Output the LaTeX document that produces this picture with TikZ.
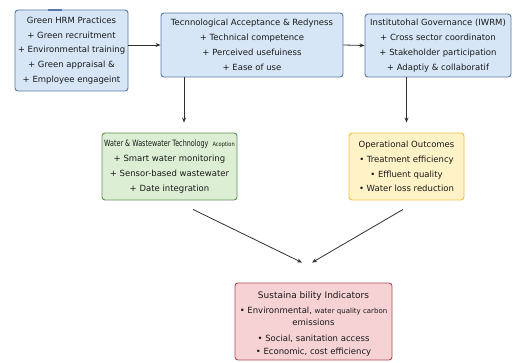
\documentclass[tikz,border=0pt]{standalone}
\usepackage{fontspec}
\usepackage{graphicx}
\setmainfont{DejaVu Sans}
\usetikzlibrary{arrows.meta,calc}
\definecolor{bfill}{HTML}{D6E6F6}
\definecolor{bdraw}{HTML}{5878A8}
\definecolor{gfill}{HTML}{DCEFD4}
\definecolor{gdraw}{HTML}{5E9254}
\definecolor{yfill}{HTML}{FFF2C6}
\definecolor{ydraw}{HTML}{EEC04A}
\definecolor{rfill}{HTML}{F6D2D5}
\definecolor{rdraw}{HTML}{B04A52}
\definecolor{arrc}{HTML}{303030}
\tikzset{
  boxbase/.style={rounded corners=3pt, line width=0.9pt, align=center, inner sep=0pt,
    font=\fontsize{8.5}{14.8}\selectfont, text=black!90},
  bluebox/.style={boxbase, draw=bdraw, fill=bfill},
  greenbox/.style={boxbase, draw=gdraw, fill=gfill},
  yellowbox/.style={boxbase, draw=ydraw, fill=yfill},
  redbox/.style={boxbase, draw=rdraw, fill=rfill},
  arr/.style={draw=arrc, line width=0.8pt, -{Stealth[length=5pt,width=4pt]}}
}
\begin{document}
\begin{tikzpicture}[x=1pt,y=-1pt]
\useasboundingbox (0,0) rectangle (513,363);
\node[bluebox, minimum width=113pt, minimum height=81pt] (b1) at (71.5,50.5)
  {Green HRM Practices\\+ Green recruitment\\+ Environmental training\\+ Green appraisal \&\\+ Employee engageint};
\draw[bdraw, line width=2pt] (b1.north west) ++(33,0) -- ++(14,0) coordinate (tab);
\node[bluebox, minimum width=182pt, minimum height=64pt] (b2) at (252,45)
  {Tecnnological Acceptance \& Redyness\\+ Technical competence\\+ Perceived usefuiness\\+ Ease of use};
\node[bluebox, minimum width=146pt, minimum height=63pt] (b3) at (438,45.5)
  {Institutohal Governance (IWRM)\\+ Cross sector coordinaton\\+ Stakeholder participation\\+ Adaptiy \& collaboratif};
\node[greenbox, minimum width=135pt, minimum height=67pt] (gr) at (169.5,166.5)
  {\scalebox{0.74}[1]{\fontsize{8.7}{14.8}\selectfont Water \& Wastewater Technology}\hspace{4pt}\scalebox{0.85}[1]{\fontsize{6}{6}\selectfont Acoption}\\+ Smart water monitoring\\+ Sensor-based wastewater\\+ Date integration};
\node[yellowbox, minimum width=115pt, minimum height=67pt] (ye) at (406.5,166.5)
  {Operational Outcomes\\• Treatment efficiency\\• Effluent quality\\• Water loss reduction};
\node[redbox, minimum width=157pt, minimum height=77pt] (rd) at (313.5,321.5)
  {\rule{0pt}{12pt}{\fontsize{9}{14.8}\selectfont Sustaina bility Indicators}\\[0pt]
   • Environmental, {\fontsize{7}{7}\selectfont water quality carbon}\\[-2.5pt]
   emissions\\[1pt]• Social, sanitation access\\[-2pt]• Economic, cost efficiency};
\draw[arr] (b1.east |- b2.west) -- (b2.west);
\draw[arr] (b2.east) -- (b3.west);
\draw[arr, shorten >=10pt] ([xshift=-68pt]b2.south) -- ([xshift=14.5pt]gr.north);
\draw[arr, shorten >=10pt] (b3.south -| ye.north) -- (ye.north);
\draw[arr] ([xshift=23.5pt,yshift=-9pt]gr.south) -- ([xshift=-11.5pt,yshift=20pt]rd.north);
\draw[arr] ([xshift=-3.5pt,yshift=-9pt]ye.south) -- ([xshift=-1.5pt,yshift=20pt]rd.north);
\end{tikzpicture}
\end{document}
